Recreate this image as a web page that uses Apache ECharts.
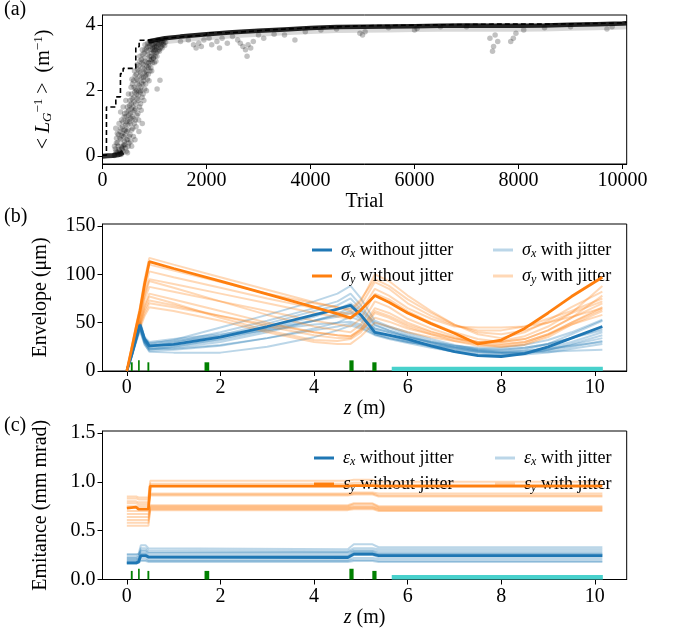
<!DOCTYPE html>
<html><head><meta charset="utf-8">
<script src="https://cdn.jsdelivr.net/npm/echarts@6/dist/echarts.min.js"></script>
<style>html,body{margin:0;padding:0;background:#fff}#c{width:681px;height:637px}</style>
</head><body><div id="c"></div>
<script>
// ---------- Panel (a) data ----------
const stepTrial = [0, 76, 256, 345, 397, 640, 705, 878, 1000, 1200, 1500, 2000, 2500, 3000, 3500, 4000, 4500, 5000, 5500, 6000, 6500, 7000, 7500, 8000, 8500, 9000, 9500, 10000, 10080];
const stepBest  = [0.03, 1.5, 1.81, 2.52, 2.68, 3.34, 3.54, 3.56, 3.6, 3.64, 3.7, 3.77, 3.83, 3.88, 3.92, 3.95, 3.98, 3.99, 4.0, 4.01, 4.02, 4.03, 4.03, 4.03, 4.04, 4.05, 4.07, 4.09, 4.1];
const bandTrial = [880, 1000, 1200, 1500, 2000, 2500, 3000, 3500, 4000, 4500, 5000, 5500, 6000, 6500, 7000, 7500, 8000, 8500, 9000, 9500, 10000, 10080];
const bandVal   = [3.5, 3.54, 3.6, 3.65, 3.72, 3.78, 3.83, 3.87, 3.91, 3.94, 3.95, 3.96, 3.97, 3.98, 3.99, 3.98, 3.98, 3.99, 4.01, 4.03, 4.05, 4.06];
const lowTrial = [0, 100, 200, 300, 350, 400];
const lowVal   = [0.0, 0.01, 0.02, 0.04, 0.07, 0.12];
const cloud = [
 [240,0.05],[262,0.15],[231,0.3],[270,0.55],[255,0.85],
 [296,0.08],[312,0.2],[288,0.4],[305,0.65],[318,1.0],[281,0.12],
 [342,0.1],[361,0.3],[355,0.5],[338,0.75],[366,1.1],[349,1.35],[372,0.2],
 [392,0.15],[410,0.35],[404,0.6],[388,0.9],[417,1.2],[398,1.5],[421,0.45],
 [445,0.25],[462,0.5],[438,0.8],[455,1.05],[470,1.35],[449,1.7],[433,0.65],
 [496,0.3],[512,0.6],[488,0.95],[505,1.25],[520,1.55],[499,1.9],[483,1.1],
 [546,0.45],[561,0.8],[538,1.15],[555,1.45],[570,1.75],[549,2.1],[566,2.35],[533,1.3],
 [594,0.6],[611,1.0],[588,1.35],[604,1.65],[619,1.95],[598,2.3],[615,2.6],[583,1.5],
 [645,0.9],[662,1.25],[638,1.6],[655,1.9],[670,2.2],[649,2.5],[666,2.8],[633,2.05],
 [695,1.1],[712,1.5],[688,1.85],[704,2.15],[720,2.45],[699,2.75],[716,3.05],[683,2.3],
 [744,1.4],[762,1.8],[738,2.1],[755,2.4],[770,2.7],[749,2.95],[766,3.25],[733,2.55],
 [795,1.7],[812,2.05],[788,2.4],[805,2.65],[820,2.9],[799,3.15],[816,3.4],[783,2.8],
 [846,2.0],[861,2.35],[838,2.6],[855,2.85],[870,3.1],[849,3.3],[866,3.45],
 [895,2.3],[912,2.6],[888,2.85],[905,3.05],[920,3.25],[899,3.45],
 [946,2.6],[961,2.85],[938,3.05],[955,3.25],[970,3.4],[949,3.5],
 [996,2.85],[1012,3.05],[988,3.2],[1005,3.35],[1020,3.5],
 [1046,3.05],[1061,3.2],[1038,3.35],[1055,3.45],[1070,3.55],
 [1095,3.2],[1112,3.3],[1088,3.42],[1105,3.52],[1105,2.32],
 [1146,3.3],[1161,3.4],[1138,3.5],[1195,3.38],[1212,3.48],[1188,3.55],
 [560,0.3],[625,0.5],[480,0.1],[700,0.75],[765,1.0],[1050,2.05],
 [228,0.02],[247,0.22],[266,0.4],[285,0.7],[301,0.3],
 [326,0.15],[333,0.55],[347,0.85],[358,0.05],[369,0.62],
 [379,0.25],[386,0.7],[395,1.05],[402,0.3],[414,0.8],[426,1.3],
 [431,0.35],[441,0.95],[452,1.2],[458,0.15],[467,0.75],[476,1.5],
 [481,0.5],[492,0.8],[503,1.4],[508,0.4],[517,1.05],[526,1.7],
 [531,0.65],[541,1.0],[552,1.6],[558,1.9],[567,1.2],[576,2.2],
 [581,0.85],[591,1.15],[602,1.8],[608,2.1],[617,1.4],[626,2.45],
 [631,1.1],[641,1.45],[652,2.0],[658,2.35],[667,1.75],[676,2.65],
 [681,1.3],[691,1.7],[702,2.0],[708,2.6],[717,2.9],[726,1.95],
 [731,1.6],[741,2.0],[752,2.25],[758,2.85],[767,3.1],[776,2.2],
 [781,1.9],[791,2.3],[802,2.55],[808,3.0],[817,3.25],[826,2.45],
 [831,2.2],[841,2.5],[852,2.75],[858,3.2],[867,3.35],[876,2.7],
 [881,2.5],[891,2.75],[902,2.95],[908,3.35],[917,3.5],[926,2.9],
 [931,2.7],[941,2.95],[952,3.15],[958,3.4],[967,3.3],[976,3.0],
 [981,3.0],[991,3.15],[1002,3.3],[1008,3.45],[1017,3.25],[1026,2.9],
 [1032,3.15],[1043,3.3],[1068,3.4],[1085,3.25],[1118,3.45],[1132,3.35],[1158,3.52],[1175,3.45],
 [1500,3.5],[1650,3.55],[1750,3.4],[1800,3.3],[1850,3.45],[1900,3.35],[1950,3.55],[2050,3.6],[2100,3.4],[2200,3.5],
 [2250,3.3],[2300,3.6],[2400,3.45],[2500,3.65],[2600,3.55],[2650,3.45],[2700,3.35],[2750,3.25],[2780,3.05],[2800,3.4],
 [2850,3.3],[2900,3.5],[3000,3.7],[3100,3.6],[3300,3.72],[3500,3.7],[3700,3.55],[3900,3.8],[4200,3.85],[4500,3.88],
 [4950,3.75],[5000,3.7],[5050,3.8],[5500,3.92],[6000,3.85],[6050,3.9],[6500,3.95],[7000,3.95],[7450,3.6],[7500,3.2],
 [7520,3.35],[7550,3.7],[7600,3.5],[7850,3.5],[7900,3.6],[7950,3.75],[8100,3.85],[8500,3.92],[9000,3.95],[9700,3.88],[9800,3.95]
];

// ---------- Panel (b) data: beam envelope (um) ----------
const zGrid = [0, 0.1, 0.2, 0.28, 0.38, 0.48, 1, 2, 3, 4, 4.5, 4.78, 5.0, 5.3, 5.6, 6, 6.5, 7, 7.5, 8, 8.5, 9, 9.5, 10.16];
const sx0 = [0, 16, 34, 48, 33, 26, 27.5, 35, 46, 58, 64, 68, 58, 40, 37, 33, 26, 20, 16, 15, 18, 25, 34, 46];
const sy0 = [0, 22, 45, 62, 90, 113, 106, 93, 79.5, 66, 59, 55, 63, 78, 71, 60, 49, 39, 28, 32, 44, 60, 77, 97];
const sxJit = [
 [0,18,36,50,34,28,32,45,58,72,80,88,75,52,46,40,33,27,22,20,22,28,38,52],
 [0,16,33,46,30,25,30,40,52,65,72,80,68,48,42,36,30,25,21,19,20,24,30,40],
 [0,17,35,48,32,27,29,37,49,62,68,75,64,50,45,38,31,26,23,22,24,28,34,44],
 [0,15,32,44,29,23,24,30,40,52,59,66,58,44,40,35,30,26,24,24,27,32,40,53],
 [0,14,30,42,27,21,22,26,34,44,50,56,52,38,34,30,27,24,22,22,24,28,34,42],
 [0,16,34,47,31,24,26,32,42,52,58,62,56,42,37,32,27,22,19,18,19,22,27,34],
 [0,15,31,43,28,20,19,19,25,35,42,47,44,37,33,29,24,20,17,16,17,19,23,28],
 [0,17,35,49,33,29,31,36,42,48,50,51,48,40,36,31,25,20,17,16,18,22,28,37],
 [0,16,33,46,30,23,23,27,34,42,46,49,46,38,34,30,26,22,20,19,19,20,21,22],
 [0,18,37,52,35,30,33,38,44,52,56,60,54,44,40,35,29,24,21,20,21,23,26,30],
 [0,15,32,45,30,22,25,33,44,56,64,70,62,47,42,36,29,24,20,18,19,21,25,31]
];
const syJit = [
 [0,24,48,66,95,117,110,97,84,71,66,62,72,100,93,78,62,48,38,34,40,52,66,82],
 [0,23,46,63,90,110,104,92,80,70,66,64,74,95,88,74,60,48,40,38,42,50,60,72],
 [0,22,44,60,85,103,97,86,75,65,61,59,68,92,85,70,57,47,42,42,46,54,62,75],
 [0,21,42,56,80,95,90,80,70,60,56,54,62,85,78,65,54,46,45,45,46,50,56,65],
 [0,21,41,55,78,93,86,72,58,46,42,40,48,72,66,54,44,36,30,28,30,38,50,66],
 [0,20,40,53,74,87,82,72,62,52,48,46,54,80,74,62,50,40,33,30,33,42,55,70],
 [0,19,38,50,68,80,74,62,50,40,37,36,44,65,60,50,41,34,28,25,27,35,48,62],
 [0,19,37,49,66,77,70,55,42,32,31,33,40,60,55,46,38,31,26,25,28,37,50,64],
 [0,18,36,48,63,73,68,57,46,37,34,34,43,62,57,48,40,34,30,30,33,42,55,78],
 [0,18,35,46,60,70,66,57,48,40,37,36,42,55,51,44,38,33,30,31,36,46,60,88],
 [0,17,34,44,57,66,62,52,40,30,28,28,36,50,46,40,35,31,28,27,30,38,48,58]
];

// ---------- Panel (c) data: emittance (mm mrad) ----------
const zc  = [0, 0.2, 0.25, 0.3, 0.4, 0.46, 0.5, 4.72, 4.85, 5.25, 5.38, 10.16];
const ex0 = [0.17, 0.17, 0.18, 0.245, 0.245, 0.23, 0.225, 0.225, 0.26, 0.26, 0.245, 0.245];
const ey0 = [0.73, 0.74, 0.72, 0.72, 0.72, 0.72, 0.955, 0.955, 0.96, 0.96, 0.955, 0.955];
const exJit = [
 [0.25,0.25,0.26,0.35,0.35,0.32,0.31,0.31,0.36,0.36,0.33,0.33],
 [0.23,0.23,0.24,0.32,0.32,0.3,0.29,0.29,0.32,0.32,0.31,0.31],
 [0.22,0.22,0.23,0.3,0.3,0.28,0.28,0.28,0.3,0.3,0.29,0.29],
 [0.26,0.26,0.26,0.29,0.29,0.27,0.27,0.27,0.29,0.29,0.27,0.27],
 [0.2,0.2,0.21,0.27,0.27,0.25,0.25,0.25,0.28,0.28,0.26,0.26],
 [0.19,0.19,0.2,0.26,0.26,0.24,0.24,0.24,0.27,0.27,0.25,0.25],
 [0.18,0.18,0.19,0.24,0.24,0.22,0.22,0.22,0.25,0.25,0.23,0.23],
 [0.21,0.21,0.21,0.22,0.22,0.2,0.2,0.2,0.22,0.22,0.21,0.21],
 [0.17,0.17,0.18,0.2,0.2,0.19,0.19,0.19,0.2,0.2,0.19,0.19],
 [0.16,0.16,0.17,0.19,0.19,0.18,0.18,0.18,0.19,0.19,0.18,0.18]
];
const eyJit = [
 [0.85,0.85,0.84,0.84,0.84,0.84,1.01,1.01,1.02,1.02,1.0,1.0],
 [0.83,0.83,0.82,0.82,0.82,0.82,0.98,0.98,0.99,0.99,0.97,0.97],
 [0.8,0.8,0.79,0.79,0.79,0.79,0.88,0.88,0.89,0.89,0.88,0.88],
 [0.78,0.78,0.77,0.77,0.77,0.77,0.87,0.87,0.88,0.88,0.86,0.86],
 [0.75,0.75,0.75,0.75,0.75,0.75,0.86,0.86,0.87,0.87,0.85,0.85],
 [0.7,0.7,0.7,0.7,0.7,0.7,0.76,0.76,0.78,0.78,0.75,0.75],
 [0.67,0.67,0.67,0.67,0.67,0.67,0.75,0.75,0.77,0.77,0.74,0.74],
 [0.64,0.64,0.64,0.64,0.64,0.64,0.74,0.74,0.75,0.75,0.73,0.73],
 [0.61,0.61,0.61,0.61,0.61,0.61,0.73,0.73,0.74,0.74,0.72,0.72],
 [0.58,0.58,0.58,0.58,0.58,0.58,0.72,0.72,0.73,0.73,0.71,0.71],
 [0.55,0.55,0.55,0.55,0.55,0.55,0.71,0.71,0.72,0.72,0.70,0.70]
];

// ---------- beamline elements ----------
const elemStart = [0.085, 0.24, 0.44, 1.66, 4.755, 5.245];
const elemEnd   = [0.125, 0.275, 0.48, 1.76, 4.845, 5.335];
const elemHb    = [9, 11, 9, 9, 11, 9];
const elemHc    = [0.088, 0.11, 0.088, 0.088, 0.11, 0.088];
const undStart = 5.66, undEnd = 10.17, undHb = 4.5, undHc = 0.045;

// tick labels
const ticksA_x = [0, 2000, 4000, 6000, 8000, 10000];
const ticksA_y = [0, 2, 4];
const ticksZ   = [0, 2, 4, 6, 8, 10];
const ticksB_y = [0, 50, 100, 150];
const ticksC_y = [0, 0.5, 1.0, 1.5];

// ---------- build ----------
const F = "'Liberation Serif', 'DejaVu Serif', serif";
const BLUE = '#1f77b4', ORANGE = '#ff7f0e';
const BLUE_L = 'rgba(31,119,180,0.3)', ORANGE_L = 'rgba(255,127,14,0.3)';
const zip = (xs, ys) => xs.map((x, i) => [x, ys[i]]);
const plain = v => String(v);

function xAxisCfg(idx, min, max, ticks, name, gap) {
  return {
    type: 'value', gridIndex: idx, min: min, max: max,
    name: name, nameLocation: 'middle', nameGap: gap,
    nameTextStyle: { fontFamily: F, fontSize: 20, color: '#000',
      rich: { i: { fontFamily: F, fontSize: 20, fontStyle: 'italic', color: '#000' },
              t: { fontFamily: F, fontSize: 20, color: '#000' } } },
    axisLine: { show: true, onZero: false, lineStyle: { color: '#000', width: 1 } },
    axisTick: { show: true, length: 5, customValues: ticks, lineStyle: { color: '#000', width: 1 } },
    axisLabel: { customValues: ticks, fontFamily: F, fontSize: 20, color: '#000', margin: 7, formatter: plain },
    splitLine: { show: false }
  };
}
function yAxisCfg(idx, min, max, ticks, name, gap, fmt) {
  return {
    type: 'value', gridIndex: idx, min: min, max: max,
    name: name, nameLocation: 'middle', nameGap: gap,
    nameTextStyle: { fontFamily: F, fontSize: 20, color: '#000',
      rich: {
        t: { fontFamily: F, fontSize: 20, color: '#000', lineHeight: 22 },
        i: { fontFamily: F, fontSize: 20, fontStyle: 'italic', color: '#000', lineHeight: 22 },
        sub: { fontFamily: F, fontSize: 13, fontStyle: 'italic', color: '#000', verticalAlign: 'bottom', lineHeight: 10 },
        sup: { fontFamily: F, fontSize: 13, color: '#000', verticalAlign: 'top', lineHeight: 10 }
      } },
    axisLine: { show: true, onZero: false, lineStyle: { color: '#000', width: 1 } },
    axisTick: { show: true, length: 5, customValues: ticks, lineStyle: { color: '#000', width: 1 } },
    axisLabel: { customValues: ticks, fontFamily: F, fontSize: 20, color: '#000', margin: 7, formatter: fmt },
    splitLine: { show: false }
  };
}

const series = [];
// panel a
series.push({ type: 'scatter', xAxisIndex: 0, yAxisIndex: 0, data: cloud, symbolSize: 5.5,
  itemStyle: { color: 'rgba(0,0,0,0.3)' }, silent: true, z: 2 });
series.push({ type: 'line', xAxisIndex: 0, yAxisIndex: 0, data: zip(bandTrial, bandVal.map(v => v - 0.06)), showSymbol: false,
  lineStyle: { color: 'rgba(0,0,0,0.15)', width: 8 }, silent: true, z: 3 });
series.push({ type: 'line', xAxisIndex: 0, yAxisIndex: 0, data: zip(bandTrial, bandVal), showSymbol: false,
  lineStyle: { color: 'rgba(0,0,0,0.85)', width: 4.5 }, silent: true, z: 4 });
series.push({ type: 'line', xAxisIndex: 0, yAxisIndex: 0, data: zip(lowTrial, lowVal), showSymbol: false,
  lineStyle: { color: 'rgba(0,0,0,0.8)', width: 5 }, silent: true, z: 4 });
series.push({ type: 'line', xAxisIndex: 0, yAxisIndex: 0, data: zip(stepTrial, stepBest), step: 'end', showSymbol: false,
  lineStyle: { color: '#000', width: 1.6, type: [5, 3] }, silent: true, z: 5 });

// panel b
sxJit.forEach(a => series.push({ name: 'sxj', type: 'line', xAxisIndex: 1, yAxisIndex: 1, data: zip(zGrid, a),
  showSymbol: false, lineStyle: { color: BLUE, width: 2, opacity: 0.3 }, itemStyle: { color: BLUE_L }, silent: true, z: 3 }));
syJit.forEach(a => series.push({ name: 'syj', type: 'line', xAxisIndex: 1, yAxisIndex: 1, data: zip(zGrid, a),
  showSymbol: false, lineStyle: { color: ORANGE, width: 2, opacity: 0.3 }, itemStyle: { color: ORANGE_L }, silent: true, z: 3 }));
series.push({ name: 'sx0', type: 'line', xAxisIndex: 1, yAxisIndex: 1, data: zip(zGrid, sx0), showSymbol: false,
  lineStyle: { color: BLUE, width: 2.8 }, itemStyle: { color: BLUE }, silent: true, z: 4 });
series.push({ name: 'sy0', type: 'line', xAxisIndex: 1, yAxisIndex: 1, data: zip(zGrid, sy0), showSymbol: false,
  lineStyle: { color: ORANGE, width: 2.8 }, itemStyle: { color: ORANGE }, silent: true, z: 4 });

// panel c
exJit.forEach(a => series.push({ name: 'exj', type: 'line', xAxisIndex: 2, yAxisIndex: 2, data: zip(zc, a),
  showSymbol: false, lineStyle: { color: BLUE, width: 2, opacity: 0.3 }, itemStyle: { color: BLUE_L }, silent: true, z: 3 }));
eyJit.forEach(a => series.push({ name: 'eyj', type: 'line', xAxisIndex: 2, yAxisIndex: 2, data: zip(zc, a),
  showSymbol: false, lineStyle: { color: ORANGE, width: 2, opacity: 0.3 }, itemStyle: { color: ORANGE_L }, silent: true, z: 3 }));
series.push({ name: 'ex0', type: 'line', xAxisIndex: 2, yAxisIndex: 2, data: zip(zc, ex0), showSymbol: false,
  lineStyle: { color: BLUE, width: 2.8 }, itemStyle: { color: BLUE }, silent: true, z: 4 });
series.push({ name: 'ey0', type: 'line', xAxisIndex: 2, yAxisIndex: 2, data: zip(zc, ey0), showSymbol: false,
  lineStyle: { color: ORANGE, width: 2.8 }, itemStyle: { color: ORANGE }, silent: true, z: 4 });

// elements
function rectRender(params, api) {
  const p0 = api.coord([api.value(0), api.value(2)]);
  const p1 = api.coord([api.value(1), 0]);
  return { type: 'rect', shape: { x: p0[0], y: p0[1], width: p1[0] - p0[0], height: p1[1] - p0[1] },
    style: { fill: api.value(3) === 1 ? '#48d1cc' : '#008000' } };
}
[[1, elemHb, undHb], [2, elemHc, undHc]].forEach(([gi, hs, uh]) => {
  const d = elemStart.map((s, i) => [s, elemEnd[i], hs[i], 0]);
  d.push([undStart, undEnd, uh, 1]);
  series.push({ type: 'custom', xAxisIndex: gi, yAxisIndex: gi, renderItem: rectRender, data: d,
    encode: { x: [0, 1], y: 2 }, silent: true, z: 6 });
});

const legendNames = {
  sx0: ['σ', 'x', ' without jitter'], sxj: ['σ', 'x', ' with jitter'],
  sy0: ['σ', 'y', ' without jitter'], syj: ['σ', 'y', ' with jitter'],
  ex0: ['ε', 'x', ' without jitter'], exj: ['ε', 'x', ' with jitter'],
  ey0: ['ε', 'y', ' without jitter'], eyj: ['ε', 'y', ' with jitter']
};
const legendRich = {
  g: { fontFamily: F, fontSize: 18, fontStyle: 'italic', color: '#000', lineHeight: 20 },
  s: { fontFamily: F, fontSize: 12, fontStyle: 'italic', color: '#000', verticalAlign: 'bottom', lineHeight: 10 },
  t: { fontFamily: F, fontSize: 18, color: '#000', lineHeight: 20 }
};
function legendCfg(left, top, names, colors) {
  return {
    left: left, top: top, orient: 'vertical', itemGap: 7, itemWidth: 20, itemHeight: 3,
    selectedMode: false, icon: 'rect',
    data: names.map((n, i) => ({ name: n, icon: 'rect', itemStyle: { color: colors[i] } })),
    formatter: n => { const a = legendNames[n]; return '{g|' + a[0] + '}{s|' + a[1] + '}{t|' + a[2] + '}'; },
    textStyle: { fontFamily: F, fontSize: 18, color: '#000', padding: [0, 0, 0, 4], rich: legendRich }
  };
}

const option = {
  animation: false,
  backgroundColor: '#fff',
  grid: [
    { left: 102.5, width: 524.2, top: 15, height: 149, show: true, borderColor: '#000', borderWidth: 1, backgroundColor: 'transparent' },
    { left: 102.5, width: 524.2, top: 224, height: 147, show: true, borderColor: '#000', borderWidth: 1, backgroundColor: 'transparent' },
    { left: 102.5, width: 524.2, top: 431, height: 148.5, show: true, borderColor: '#000', borderWidth: 1, backgroundColor: 'transparent' }
  ],
  xAxis: [
    xAxisCfg(0, 0, 10080, ticksA_x, 'Trial', 28),
    xAxisCfg(1, -0.52, 10.68, ticksZ, '{i|z}{t| (m)}', 28),
    xAxisCfg(2, -0.52, 10.68, ticksZ, '{i|z}{t| (m)}', 28)
  ],
  yAxis: [
    yAxisCfg(0, -0.24, 4.31, ticksA_y, '{t|< }{i|L}{sub|G}{sup|−1}{t| >  (m}{sup|−1}{t|)}', 48, plain),
    yAxisCfg(1, 0, 152, ticksB_y, 'Envelope (μm)', 52, plain),
    yAxisCfg(2, 0, 1.52, ticksC_y, 'Emitance (mm mrad)', 52, v => v.toFixed(1))
  ],
  legend: [
    legendCfg(307, 236, ['sx0', 'sy0'], [BLUE, ORANGE]),
    legendCfg(488, 236, ['sxj', 'syj'], [BLUE_L, ORANGE_L]),
    legendCfg(309, 444, ['ex0', 'ey0'], [BLUE, ORANGE]),
    legendCfg(490, 444, ['exj', 'eyj'], [BLUE_L, ORANGE_L])
  ],
  graphic: [
    { type: 'text', left: 4, top: 0, style: { text: '(a)', font: '20px "Liberation Serif"', fill: '#000' } },
    { type: 'text', left: 4, top: 207, style: { text: '(b)', font: '20px "Liberation Serif"', fill: '#000' } },
    { type: 'text', left: 4, top: 416, style: { text: '(c)', font: '20px "Liberation Serif"', fill: '#000' } }
  ],
  series: series
};
const chart = echarts.init(document.getElementById('c'), null, { renderer: 'canvas' });
chart.setOption(option);
</script></body></html>
